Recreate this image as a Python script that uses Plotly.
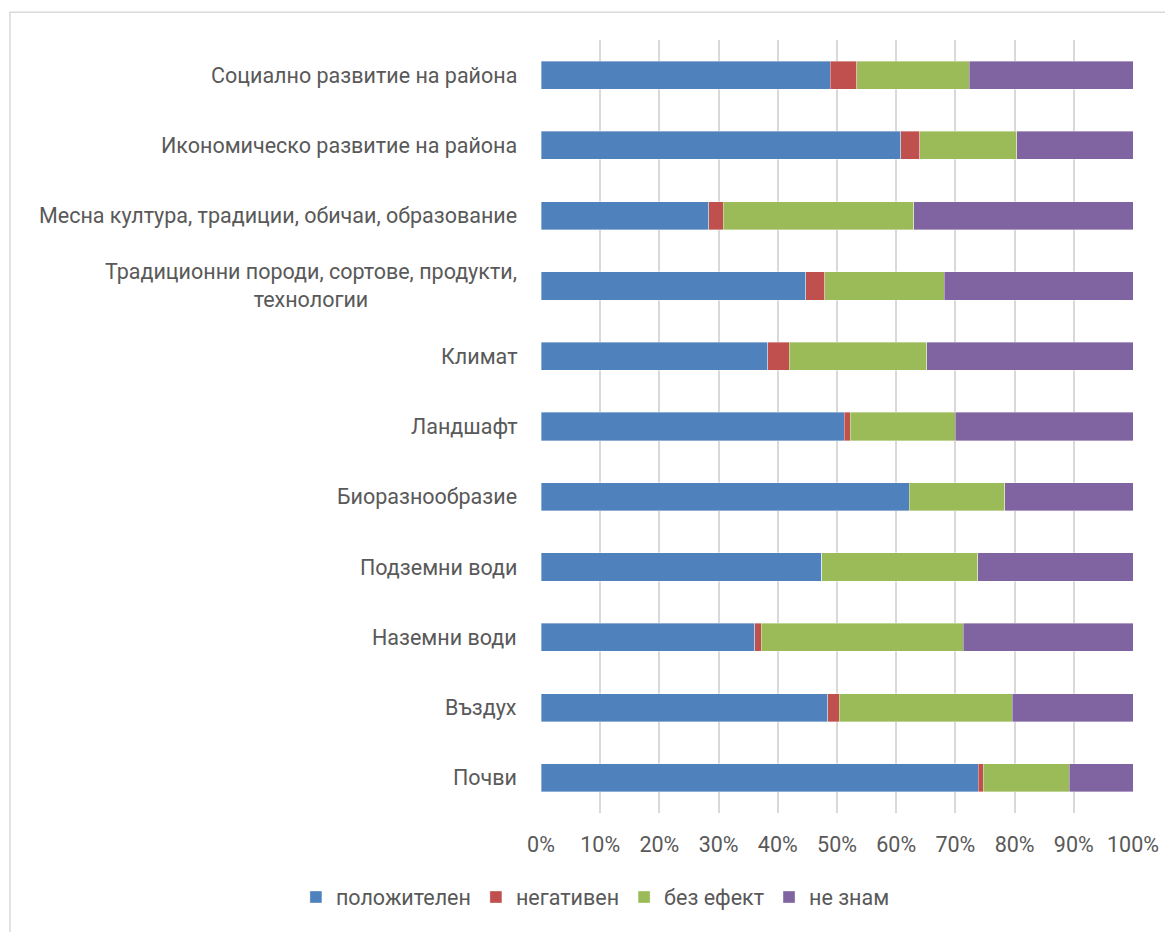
import plotly.graph_objects as go

categories = [
    "Социално развитие на района",
    "Икономическо развитие на района",
    "Месна култура, традиции, обичаи, образование",
    "Традиционни породи, сортове, продукти,<br>технологии",
    "Климат",
    "Ландшафт",
    "Биоразнообразие",
    "Подземни води",
    "Наземни води",
    "Въздух",
    "Почви",
]

positive = [48.9, 60.8, 28.3, 44.7, 38.3, 51.2, 62.2, 47.4, 36.1, 48.4, 73.9]
negative = [4.4, 3.2, 2.5, 3.2, 3.6, 1.0, 0.0, 0.0, 1.1, 2.0, 0.8]
no_effect = [19.0, 16.4, 32.2, 20.2, 23.3, 17.8, 16.1, 26.4, 34.1, 29.2, 14.5]
dont_know = [27.7, 19.6, 37.0, 31.9, 34.8, 30.0, 21.7, 26.2, 28.7, 20.4, 10.8]

series_names = ["положителен", "негативен", "без ефект", "не знам"]
series_values = [positive, negative, no_effect, dont_know]
colors = ["#4F81BD", "#C0504D", "#9BBB59", "#8064A2"]

x_ticks = [0, 10, 20, 30, 40, 50, 60, 70, 80, 90, 100]
x_ticklabels = [f"{t}%" for t in x_ticks]

FONT = "Roboto, 'Open Sans', sans-serif"
FS = 21.5
GREY = "#595959"

fig = go.Figure()
for name, vals, col in zip(series_names, series_values, colors):
    fig.add_trace(go.Bar(
        y=categories, x=vals, name=name, orientation="h",
        marker=dict(color=col, line=dict(color="rgba(255,255,255,0.6)", width=0.6)),
        hovertemplate="%{y}: %{x}%<extra>" + name + "</extra>",
    ))

for c in categories:
    fig.add_annotation(
        x=0, xref="paper", y=c, yref="y", xanchor="right", yanchor="middle",
        xshift=-22, text=c, showarrow=False, align="center",
        font=dict(family=FONT, size=FS, color=GREY),
    )

fig.add_shape(type="rect", xref="paper", yref="paper",
              x0=-0.897, x1=1.3, y0=-0.4, y1=1.036,
              line=dict(color="#D9D9D9", width=1.5), layer="below")

fig.update_layout(
    width=1173, height=932,
    barmode="stack",
    bargap=0.6,
    plot_bgcolor="white", paper_bgcolor="white",
    margin=dict(l=533, r=48, t=32, b=127),
    font=dict(family=FONT, size=FS, color=GREY),
    xaxis=dict(
        range=[0, 100], tickvals=x_ticks, ticktext=x_ticklabels,
        showgrid=True, gridcolor="#D9D9D9", gridwidth=1.5,
        zeroline=False, showline=False, ticks="",
        ticklabelstandoff=16,
        tickfont=dict(family=FONT, size=FS, color=GREY),
        fixedrange=True,
    ),
    yaxis=dict(
        categoryorder="array", categoryarray=categories[::-1],
        showticklabels=False, showgrid=False, zeroline=False,
        showline=False, ticks="", fixedrange=True,
    ),
    legend=dict(
        orientation="h", x=-0.414, xanchor="left", y=-0.1087, yanchor="middle",
        font=dict(family=FONT, size=FS, color=GREY),
        traceorder="normal", itemwidth=30, tracegroupgap=0,
    ),
    showlegend=True,
)

fig.write_html("out.html")
